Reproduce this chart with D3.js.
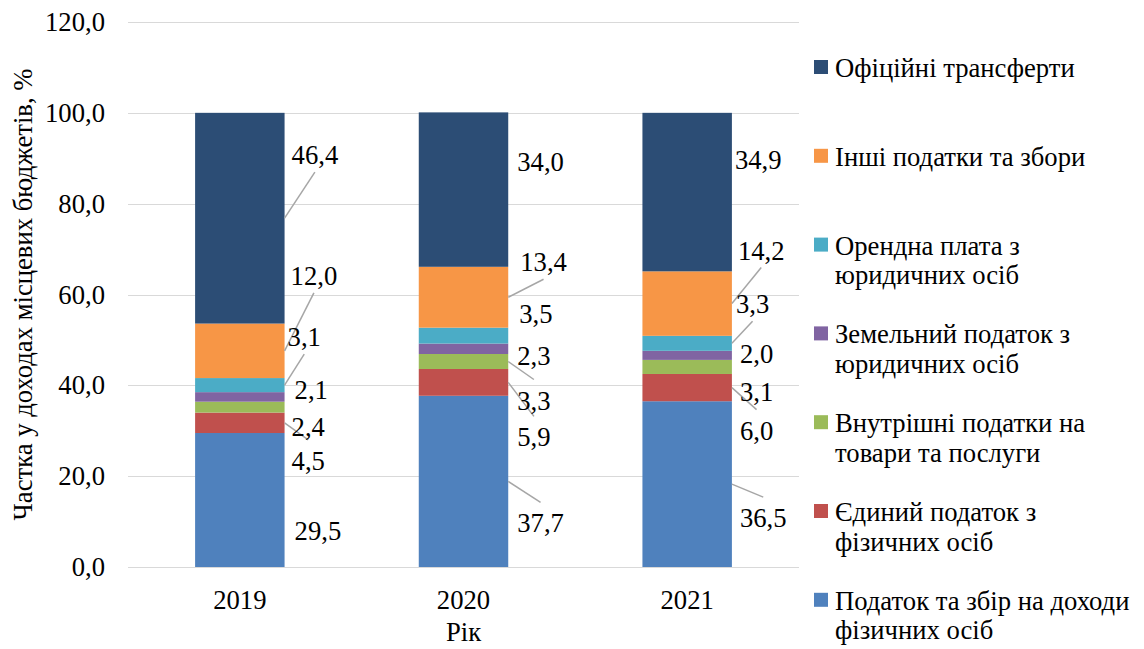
<!DOCTYPE html>
<html><head>
<meta charset="utf-8">
<title>Структура доходів місцевих бюджетів</title>
<script src="https://d3js.org/d3.v7.min.js"></script>
<style>
  body { margin: 0; background: #fff; }
  svg text { font-family: "Liberation Serif", "Tinos", "Times New Roman", Times, "DejaVu Serif", serif; fill: #000; }
  line.grid { stroke: #d9d9d9; stroke-width: 1px; }
  line.leader { stroke: #a6a6a6; stroke-width: 1.5px; }
</style>
</head>
<body>
<svg id="chart" width="1144" height="649"></svg>
<script>
// data (stack order: bottom -> top)
const years = ["2019", "2020", "2021"];
const pit        = [29.5, 37.7, 36.5];   // Податок та збір на доходи фізичних осіб
const singleTax  = [4.5, 5.9, 6.0];      // Єдиний податок з фізичних осіб
const goodsTax   = [2.4, 3.3, 3.1];      // Внутрішні податки на товари та послуги
const landTax    = [2.1, 2.3, 2.0];      // Земельний податок з юридичних осіб
const rentFee    = [3.1, 3.5, 3.3];      // Орендна плата з юридичних осіб
const otherTax   = [12.0, 13.4, 14.2];   // Інші податки та збори
const transfers  = [46.4, 34.0, 34.9];   // Офіційні трансферти

const seriesKeys = ["pit", "singleTax", "goodsTax", "landTax", "rentFee", "otherTax", "transfers"];
const seriesNames = [
  ["Податок та збір на доходи", "фізичних осіб"],
  ["Єдиний податок з", "фізичних осіб"],
  ["Внутрішні податки на", "товари та послуги"],
  ["Земельний податок з", "юридичних осіб"],
  ["Орендна плата з", "юридичних осіб"],
  ["Інші податки та збори"],
  ["Офіційні трансферти"]
];
const colors = ["#4f81bd", "#c0504d", "#9bbb59", "#8064a2", "#4bacc6", "#f79646", "#2c4d75"];
const yTicks = [0, 20, 40, 60, 80, 100, 120];

// label placement (pixels, relative to bar right edge / segment middle) - manual like in Excel
const labelDx = [[10, 9, 8], [7, 9, 8], [7, 9, 8], [10, 9, 8], [3, 11, 4], [6, 12, 6], [7, 9, 3]];
const labelDy = [[31, 42, 34], [38, 55, 43], [20, 39, 25], [-7, 7, -1], [-48, -22, -39], [-75, -35, -53], [-63, -28, -32]];
const hasLeader = [[0, 1, 1], [1, 1, 1], [0, 1, 0], [0, 0, 0], [1, 0, 1], [1, 1, 1], [1, 0, 0]];

const svg = d3.select("#chart");
const plot = {left: 128, right: 799, top: 22, bottom: 567};
const fs = 26.67;

const rows = years.map((yr, i) => ({
  year: yr, pit: pit[i], singleTax: singleTax[i], goodsTax: goodsTax[i], landTax: landTax[i],
  rentFee: rentFee[i], otherTax: otherTax[i], transfers: transfers[i]
}));
const stacked = d3.stack().keys(seriesKeys)(rows);

const x = d3.scaleBand().domain(years).range([plot.left, plot.right])
            .paddingInner(0.6).paddingOuter(0.3);
const y = d3.scaleLinear().domain([0, 120]).range([plot.bottom, plot.top]);

// gridlines
svg.append("g").selectAll("line").data(yTicks).join("line")
   .attr("class", "grid")
   .attr("x1", plot.left).attr("x2", plot.right)
   .attr("y1", d => Math.round(y(d)) + 0.5).attr("y2", d => Math.round(y(d)) + 0.5);

// y tick labels
svg.append("g").selectAll("text").data(yTicks).join("text")
   .attr("x", 105).attr("y", d => y(d))
   .attr("dy", "0.34em")
   .attr("text-anchor", "end")
   .style("font-size", fs + "px")
   .text(d => d3.format(".1f")(d).replace(".", ","));

// bars
svg.append("g").selectAll("g").data(stacked).join("g")
   .attr("fill", (d, i) => colors[i])
   .selectAll("rect").data(d => d).join("rect")
   .attr("x", d => x(d.data.year))
   .attr("width", x.bandwidth())
   .attr("y", d => y(d[1]))
   .attr("height", d => y(d[0]) - y(d[1]));

// data labels + leader lines
const labG = svg.append("g");
stacked.forEach((s, si) => {
  s.forEach((d, yi) => {
    const barRight = x(d.data.year) + x.bandwidth();
    const mid = y((d[0] + d[1]) / 2);
    const cy = mid + labelDy[si][yi];
    const t = labG.append("text")
      .attr("x", barRight + labelDx[si][yi])
      .attr("y", cy).attr("dy", "0.34em")
      .style("font-size", fs + "px")
      .text(d3.format(".1f")(d.data[s.key]).replace(".", ","));
    if (hasLeader[si][yi]) {
      const bb = t.node().getBBox();
      const ex = bb.x + bb.width / 2;
      const ey = labelDy[si][yi] < 0 ? cy + 17 : cy - 21;
      labG.insert("line", ":first-child")
        .attr("class", "leader")
        .attr("x1", barRight).attr("y1", mid)
        .attr("x2", ex).attr("y2", ey);
    }
  });
});

// x axis labels
svg.append("g").selectAll("text").data(years).join("text")
   .attr("x", d => x(d) + x.bandwidth() / 2)
   .attr("y", 609)
   .attr("text-anchor", "middle")
   .style("font-size", fs + "px")
   .text(d => d);

// axis titles
svg.append("text")
   .attr("x", (plot.left + plot.right) / 2).attr("y", 641)
   .attr("text-anchor", "middle")
   .style("font-size", fs + "px")
   .text("Рік");

svg.append("text")
   .attr("transform", "translate(32," + ((plot.top + plot.bottom) / 2) + ") rotate(-90)")
   .attr("text-anchor", "middle")
   .style("font-size", fs + "px")
   .text("Частка у доходах місцевих бюджетів, %");

// legend (top item = top of stack)
const legendOrder = d3.range(seriesKeys.length).reverse();
const leg = svg.append("g").selectAll("g").data(legendOrder).join("g")
   .attr("transform", (d, i) => "translate(814," + (77 + i * 88.8) + ")");
leg.append("rect")
   .attr("x", 0).attr("y", -17).attr("width", 14).attr("height", 14)
   .attr("fill", d => colors[d]);
leg.append("text")
   .attr("x", 21)
   .style("font-size", fs + "px")
   .selectAll("tspan").data(d => seriesNames[d]).join("tspan")
   .attr("x", 21)
   .attr("dy", (d, i) => i === 0 ? 0 : 29.5)
   .text(d => d);
</script>
</body>
</html>
